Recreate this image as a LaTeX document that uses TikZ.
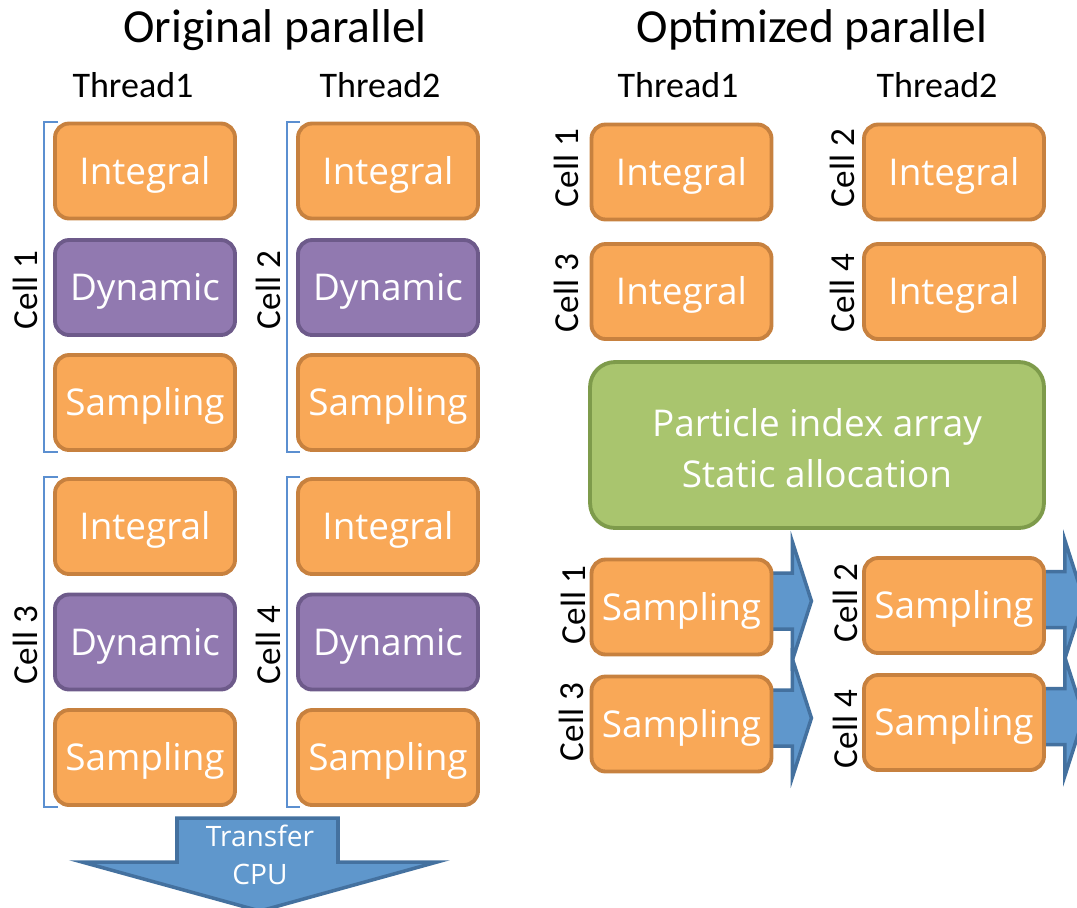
\documentclass[tikz,border=0pt]{standalone}
\usepackage{fontspec}
\setmainfont{Carlito}
\newfontfamily\boxfont{Open Sans}
\usetikzlibrary{calc,backgrounds}

\definecolor{orfill}{HTML}{F9A857}
\definecolor{orline}{HTML}{C7813F}
\definecolor{pufill}{HTML}{9179B0}
\definecolor{puline}{HTML}{6D5A8A}
\definecolor{grfill}{HTML}{A9C56E}
\definecolor{grline}{HTML}{7E9B4B}
\definecolor{blfill}{HTML}{5F97CC}
\definecolor{blline}{HTML}{44719F}
\definecolor{brline}{HTML}{5B8FD0}

\begin{document}
\begin{tikzpicture}[x=0.02cm,y=-0.02cm,
    blk/.style={rounded corners=0.28cm, line width=2.2pt, inner sep=0pt, text=white},
    task/.style={blk, minimum width=3.6cm, minimum height=1.9cm,
        text height=15pt, text depth=0pt, font=\boxfont\fontsize{21}{25}\selectfont},
    intg/.style={task, draw=orline, fill=orfill},
    dyn/.style={task, draw=puline, fill=pufill},
    stat/.style={blk, draw=grline, fill=grfill, rounded corners=0.5cm,
        minimum width=9.08cm, minimum height=3.32cm, align=center,
        font=\boxfont\fontsize{21}{29}\selectfont},
    cellbl/.style={rotate=90, font=\fontsize{20}{24}\selectfont},
    thrd/.style={font=\fontsize{20.5}{24}\selectfont},
    ttl/.style={font=\fontsize{27}{32}\selectfont},
    brk/.style={draw=brline, line width=0.8pt},
    blarrow/.style={draw=blline, fill=blfill, line width=2pt, line join=miter}]
    \clip (0,0) rectangle (1077,907);
    \useasboundingbox (0,0) rectangle (1077,907);

    % titles
    \node[ttl] (t1) at (275,30) {Original parallel};
    \node[ttl] (t2) at (812,30) {Optimized parallel};
    \node[thrd] (oh1) at (133,85) {Thread1};
    \node[thrd] (oh2) at (380,85) {Thread2};
    \node[thrd] (ph1) at (678,85) {Thread1};
    \node[thrd] (ph2) at (937,85) {Thread2};

    % original parallel
    \node[intg] (oi1) at (145,171) {Integral};
    \node[dyn]  (od1) at (145,287.5) {Dynamic};
    \node[intg] (os1) at (145,402.5) {Sampling};
    \node[intg] (oi3) at (145,526.5) {Integral};
    \node[dyn]  (od3) at (145,642) {Dynamic};
    \node[intg] (os3) at (145,757.5) {Sampling};
    \node[intg] (oi2) at (388,171) {Integral};
    \node[dyn]  (od2) at (388,287.5) {Dynamic};
    \node[intg] (os2) at (388,402.5) {Sampling};
    \node[intg] (oi4) at (388,526.5) {Integral};
    \node[dyn]  (od4) at (388,642) {Dynamic};
    \node[intg] (os4) at (388,757.5) {Sampling};

    \draw[brk] (58,122) -- (44,122) -- (44,452) -- (58,452);
    \draw[brk] (58,477) -- (44,477) -- (44,807) -- (58,807);
    \draw[brk] (300,122) -- (287,122) -- (287,452) -- (300,452);
    \draw[brk] (300,477) -- (287,477) -- (287,807) -- (300,807);
    \node[cellbl] (oc1) at (25,290) {Cell 1};
    \node[cellbl] (oc3) at (25,645) {Cell 3};
    \node[cellbl] (oc2) at (268,290) {Cell 2};
    \node[cellbl] (oc4) at (268,645) {Cell 4};

    % transfer arrow
    \draw[blarrow] (177,818) -- (338,818) -- (338,862) -- (437,862) -- (260,911)
        -- (82,862) -- (177,862) -- cycle;
    \node[align=center, text=white, font=\boxfont\fontsize{16}{21.5}\selectfont] (tr)
        at (260,855) {Transfer\\CPU};

    % optimized parallel
    \node[intg] (pi1) at (681.5,172) {Integral};
    \node[intg] (pi3) at (681.5,291.5) {Integral};
    \node[intg] (pi2) at (954,172) {Integral};
    \node[intg] (pi4) at (954,291.5) {Integral};
    \node[stat] (pg) at (817,445) {\rule{0pt}{20pt}Particle index array\\Static allocation};
    \node[intg] (ps1) at (681.5,607) {Sampling};
    \node[intg] (ps3) at (681.5,724) {Sampling};
    \node[intg] (ps2) at (954,605.5) {Sampling};
    \node[intg] (ps4) at (954,722.5) {Sampling};

    \begin{pgfonlayer}{background}
        \foreach \n in {ps1,ps2,ps3,ps4} {
            \draw[blarrow] ($(\n.east)+(-20,-34)$) -- ($(\n.east)+(19,-34)$)
                -- ($(\n.east)+(19,-65)$) -- ($(\n.east)+(38,-6)$)
                -- ($(\n.east)+(19,53)$) -- ($(\n.east)+(19,22)$)
                -- ($(\n.east)+(-20,22)$) -- cycle;
        }
    \end{pgfonlayer}

    \node[cellbl] (pc1) at (566,168) {Cell 1};
    \node[cellbl] (pc3) at (566,293) {Cell 3};
    \node[cellbl] (pc2) at (842,168) {Cell 2};
    \node[cellbl] (pc4) at (842,293) {Cell 4};
    \node[cellbl] (qc1) at (573,605) {Cell 1};
    \node[cellbl] (qc3) at (571,722) {Cell 3};
    \node[cellbl] (qc2) at (845,603) {Cell 2};
    \node[cellbl] (qc4) at (845,729) {Cell 4};
\end{tikzpicture}
\end{document}
